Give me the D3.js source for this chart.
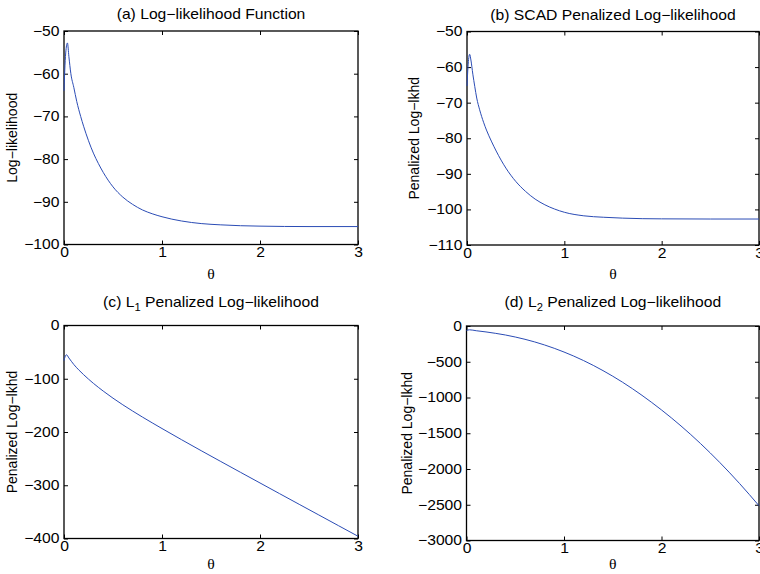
<!DOCTYPE html>
<html>
<head>
<meta charset="utf-8">
<script src="https://cdn.jsdelivr.net/npm/d3@7"></script>
<style>
  body { margin: 0; background: #fff; }
  svg text { font-family: "Liberation Sans", Arial, Helvetica, sans-serif; fill: #000; }
</style>
</head>
<body>
<div id="chart"></div>
<script>
// theta grids and curve values
const xTicks = [0, 1, 2, 3];

const thetaA = [0, 0.01, 0.02, 0.035, 0.05, 0.07, 0.1, 0.13, 0.17, 0.2, 0.25, 0.3, 0.35, 0.4, 0.5, 0.6, 0.7, 0.8, 0.9, 1.0, 1.2, 1.4, 1.6, 1.8, 2.0, 2.5, 3.0];
const logLik = [-64, -58, -54.5, -52.8, -56, -60, -63.2, -66.5, -70, -72.3, -75.7, -78.6, -81, -83.1, -86.5, -88.9, -90.6, -91.9, -92.8, -93.5, -94.5, -95.1, -95.4, -95.6, -95.7, -95.8, -95.8];
const yTicksA = [-100, -90, -80, -70, -60, -50];

const thetaB = [0, 0.01, 0.027, 0.04, 0.06, 0.08, 0.1, 0.13, 0.17, 0.2, 0.25, 0.3, 0.4, 0.5, 0.6, 0.7, 0.8, 0.9, 1.0, 1.2, 1.4, 1.6, 1.8, 2.0, 2.5, 3.0];
const scadLik = [-65.3, -60, -56.4, -58, -62, -65.5, -68.7, -72, -75.5, -77.7, -80.8, -83.6, -88.4, -92.1, -94.9, -97.1, -98.7, -99.9, -100.8, -101.8, -102.2, -102.45, -102.6, -102.65, -102.7, -102.7];
const yTicksB = [-110, -100, -90, -80, -70, -60, -50];

const thetaC = [0, 0.01, 0.025, 0.05, 0.1, 0.15, 0.2, 0.3, 0.4, 0.5, 0.6, 0.7, 0.8, 0.9, 1.0, 1.2, 1.4, 1.6, 1.8, 2.0, 2.2, 2.4, 2.6, 2.8, 3.0];
const l1Lik = [-66, -59, -55, -61, -73.2, -83.3, -92.3, -108.6, -123.1, -136.5, -148.9, -160.6, -171.9, -182.8, -193.5, -214.5, -235.1, -255.4, -275.6, -295.7, -315.8, -335.8, -355.8, -375.8, -395.8];
const yTicksC = [-400, -300, -200, -100, 0];

const thetaD = [0, 0.03, 0.1, 0.2, 0.3, 0.4, 0.5, 0.6, 0.7, 0.8, 0.9, 1.0, 1.2, 1.4, 1.6, 1.8, 2.0, 2.2, 2.4, 2.6, 2.8, 3.0];
const l2Lik = [-64, -53, -66, -83, -103, -126, -154, -186, -223, -265, -312, -364, -483, -624, -786, -970, -1174, -1398, -1644, -1912, -2202, -2514];
const yTicksD = [-3000, -2500, -2000, -1500, -1000, -500, 0];

const W = 760, H = 574;
const lineColor = "#2b4cb5";
const stretch = 1.12;   // figure text is a bit wider than the font

const svg = d3.select("#chart").append("svg")
    .attr("width", W)
    .attr("height", H);

const panels = [
    { x: thetaA, y: logLik, yTicks: yTicksA, box: [64, 358, 31, 244.5],
      title: ["(a) Log\u2212likelihood Function"], ylab: "Log\u2212likelihood", ylabOff: 47, titleOff: 12, xlabOff: 34 },
    { x: thetaB, y: scadLik, yTicks: yTicksB, box: [467, 759, 31.5, 245],
      title: ["(b) SCAD Penalized Log\u2212likelihood"], ylab: "Penalized Log\u2212lkhd", ylabOff: 48, titleOff: 12, xlabOff: 34 },
    { x: thetaC, y: l1Lik, yTicks: yTicksC, box: [64, 358, 325.5, 538.5],
      title: ["(c) L", "1", " Penalized Log\u2212likelihood"], ylab: "Penalized Log\u2212lkhd", ylabOff: 47, titleOff: 19, xlabOff: 30 },
    { x: thetaD, y: l2Lik, yTicks: yTicksD, box: [466.5, 759, 326, 540.5],
      title: ["(d) L", "2", " Penalized Log\u2212likelihood"], ylab: "Penalized Log\u2212lkhd", ylabOff: 55, titleOff: 19, xlabOff: 28 }
];

const fmt = d3.format("d");

panels.forEach(function (p) {
    let [left, right, top, bottom] = p.box;
    let w = right - left, h = bottom - top;

    let g = svg.append("g").attr("transform", "translate(" + left + "," + top + ")");

    let x = d3.scaleLinear().domain([0, 3]).range([0, w]);
    let y = d3.scaleLinear().domain(d3.extent(p.yTicks)).range([h, 0]);

    // inward ticks on all four sides, like the box of the original
    g.append("g").attr("class", "x-axis axis")
        .attr("transform", "translate(0," + h + ")")
        .call(d3.axisBottom(x).tickValues(xTicks).tickFormat(fmt).tickSizeInner(-4).tickSizeOuter(0).tickPadding(3));
    g.append("g").attr("class", "x-axis-top axis")
        .call(d3.axisTop(x).tickValues(xTicks).tickFormat("").tickSizeInner(-4).tickSizeOuter(0));
    g.append("g").attr("class", "y-axis axis")
        .call(d3.axisLeft(y).tickValues(p.yTicks).tickFormat(fmt).tickSizeInner(-4).tickSizeOuter(0).tickPadding(4));
    g.append("g").attr("class", "y-axis-right axis")
        .attr("transform", "translate(" + w + ",0)")
        .call(d3.axisRight(y).tickValues(p.yTicks).tickFormat("").tickSizeInner(-4).tickSizeOuter(0));

    g.selectAll(".axis path").remove();
    g.selectAll(".axis line").attr("stroke", "#000").attr("stroke-width", 1);
    g.selectAll(".axis text")
        .attr("font-size", 14)
        .attr("font-family", "'Liberation Sans', Arial, Helvetica, sans-serif")
        .attr("fill", "#000")
        .attr("transform", "scale(" + stretch + ",1)");

    g.append("rect")
        .attr("width", w).attr("height", h)
        .attr("fill", "none").attr("stroke", "#000").attr("stroke-width", 1.3);

    // the curve
    let pts = p.x.map((t, i) => [t, p.y[i]]);
    g.append("path")
        .datum(pts)
        .attr("fill", "none")
        .attr("stroke", lineColor)
        .attr("stroke-width", 1)
        .attr("d", d3.line().x(d => x(d[0])).y(d => y(d[1])).curve(d3.curveMonotoneX));

    // title
    let t = g.append("text")
        .attr("text-anchor", "middle")
        .attr("font-size", 14)
        .attr("transform", "translate(" + (w / 2) + "," + (-p.titleOff) + ") scale(" + stretch + ",1)");
    t.append("tspan").text(p.title[0]);
    if (p.title.length > 1) {
        t.append("tspan").attr("font-size", 10).attr("dy", 4).text(p.title[1]);
        t.append("tspan").attr("dy", -4).text(p.title[2]);
    }

    // y label
    g.append("text")
        .attr("text-anchor", "middle")
        .attr("font-size", 14)
        .attr("transform", "translate(" + (-p.ylabOff) + "," + (h / 2) + ") rotate(-90)")
        .text(p.ylab);

    // x label
    g.append("text")
        .attr("text-anchor", "middle")
        .attr("font-size", 14)
        .style("font-family", "'Liberation Serif', 'Times New Roman', serif")
        .attr("transform", "translate(" + (w / 2) + "," + (h + p.xlabOff) + ") scale(" + stretch + ",1)")
        .text("\u03b8");
});
</script>
</body>
</html>
